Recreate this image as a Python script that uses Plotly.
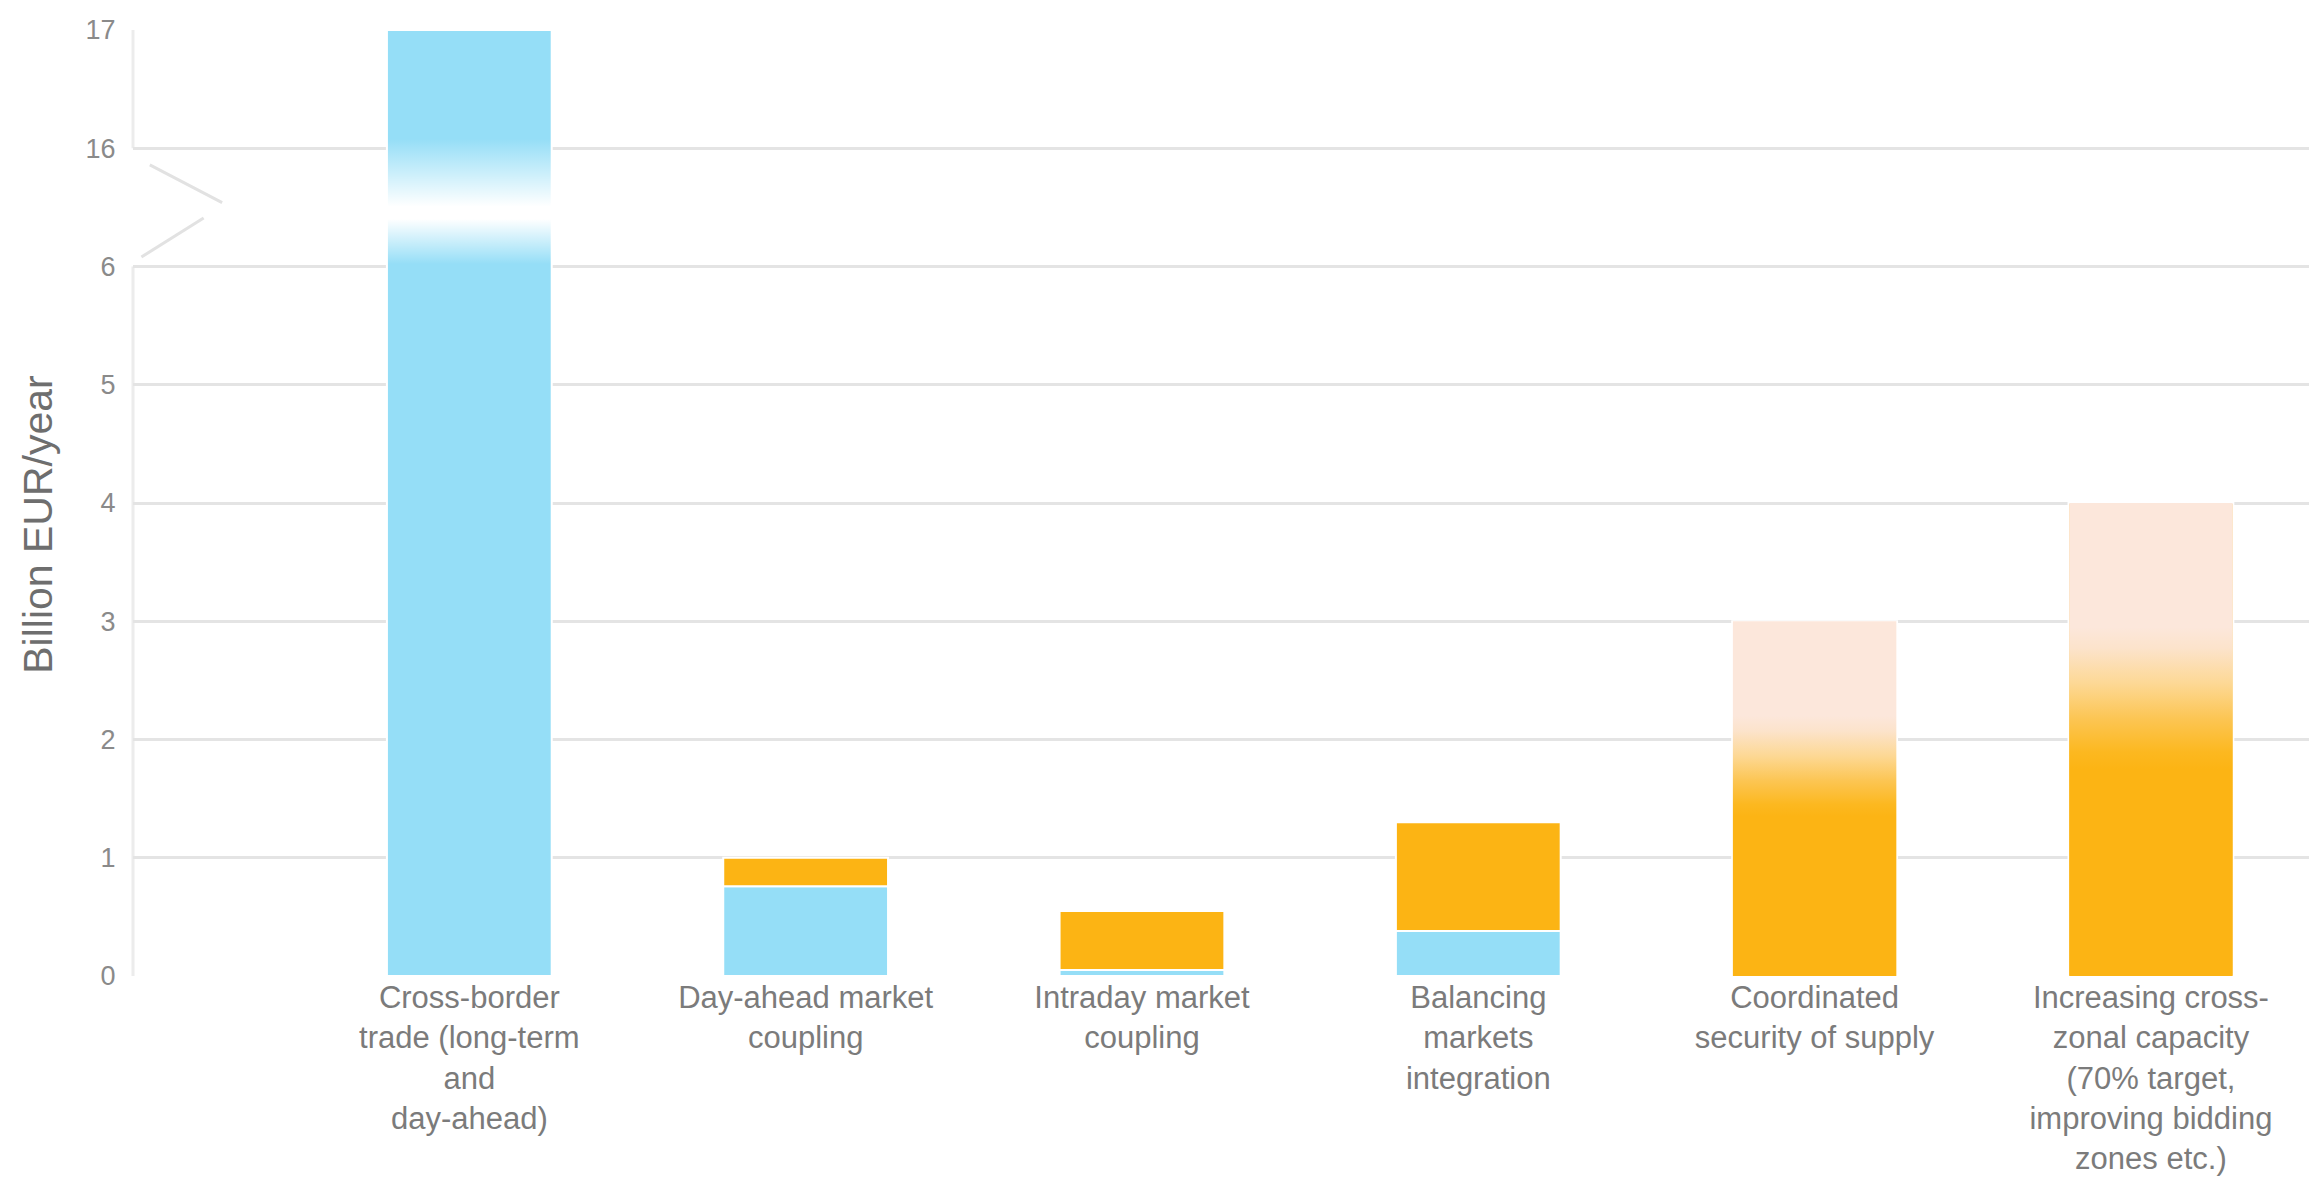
import plotly.graph_objects as go

# ---- data -------------------------------------------------------------
categories = [
    "Cross-border<br>trade (long-term<br>and<br>day-ahead)",
    "Day-ahead market<br>coupling",
    "Intraday market<br>coupling",
    "Balancing<br>markets<br>integration",
    "Coordinated<br>security of supply",
    "Increasing cross-<br>zonal capacity<br>(70% target,<br>improving bidding<br>zones etc.)",
]
blue_values = [17.0, 0.76, 0.05, 0.38, 0.0, 0.0]
orange_values = [0.0, 0.24, 0.50, 0.92, 3.0, 4.0]
# (value where the orange starts to fade, value where it is fully pale)
orange_fade = [None, None, None, None, (1.35, 2.2), (1.75, 2.95)]

y_tick_values = [0, 1, 2, 3, 4, 5, 6, 16, 17]
BREAK_LOW, BREAK_HIGH = 6, 16

# ---- style ------------------------------------------------------------
BLUE = "#95DEF7"
ORANGE = "#FCB414"
PALE = "#FCE7DB"
GRID = "#E4E4E4"
FONT = "Liberation Sans, Arial, sans-serif"
BAR_W = 0.49
FADE_SCALE = [
    [0.0, ORANGE], [0.12, "#FCB820"], [0.35, "#FCC552"],
    [0.6, "#FDD894"], [0.85, "#FCE3CB"], [1.0, PALE],
]


def axis_pos(v):
    """Position on the broken value axis: 16 sits one step above 6."""
    if v <= BREAK_LOW:
        return v
    return BREAK_LOW + 1 + (v - BREAK_HIGH)


xs = list(range(len(categories)))
blue_top = [axis_pos(b) for b in blue_values]
orange_top = [axis_pos(b + o) for b, o in zip(blue_values, orange_values)]

fig = go.Figure()

fig.add_trace(go.Bar(
    x=xs, y=blue_top, base=[0] * len(xs), width=BAR_W,
    marker=dict(color=BLUE, line=dict(color="white", width=2)),
    hoverinfo="skip", showlegend=False,
))
fig.add_trace(go.Bar(
    x=xs, y=[t - b for t, b in zip(orange_top, blue_top)], base=blue_top, width=BAR_W,
    marker=dict(color=ORANGE, line=dict(color="white", width=2)),
    hoverinfo="skip", showlegend=False,
))


def rect(x, lo, hi, inset=0.0):
    half = BAR_W / 2 - inset
    return ([x - half, x + half, x + half, x - half, x - half],
            [lo, lo, hi, hi, lo])


# faded upper part of the uncertain orange bars (drawn over the whole bar
# so the gradient blends in without a seam)
for x, fade, top, base in zip(xs, orange_fade, orange_top, blue_top):
    if fade is None:
        continue
    lo, hi = axis_pos(fade[0]), axis_pos(fade[1])
    px, py = rect(x, base, top, inset=0.002)
    fig.add_trace(go.Scatter(
        x=px, y=py, mode="lines", line=dict(width=0), fill="toself",
        fillgradient=dict(type="vertical", start=lo, stop=hi, colorscale=FADE_SCALE),
        hoverinfo="skip", showlegend=False,
    ))

# white break across the tall bar where the axis is interrupted
for x, top in zip(xs, blue_top):
    if top <= axis_pos(BREAK_HIGH):
        continue
    lo, hi = BREAK_LOW + 0.02, BREAK_LOW + 1.08
    px, py = rect(x, lo, hi)
    fig.add_trace(go.Scatter(
        x=px, y=py, mode="lines", line=dict(width=0), fill="toself",
        fillgradient=dict(type="vertical", start=lo, stop=hi,
                          colorscale=[[0, "rgba(255,255,255,0)"], [0.36, "rgba(255,255,255,1)"],
                                      [0.46, "rgba(255,255,255,1)"], [1, "rgba(255,255,255,0)"]]),
        hoverinfo="skip", showlegend=False,
    ))

# axis line (interrupted) and break marker
shapes = [
    dict(type="line", xref="paper", yref="y", x0=0, x1=0, y0=0, y1=BREAK_LOW,
         line=dict(color="#ECECEC", width=3), layer="below"),
    dict(type="line", xref="paper", yref="y", x0=0, x1=0, y0=BREAK_LOW + 1, y1=axis_pos(17),
         line=dict(color="#ECECEC", width=3), layer="below"),
    dict(type="path", xref="x", yref="y",
         path="M -0.95 6.86 L -0.735 6.54 M -0.79 6.41 L -0.975 6.08",
         line=dict(color="#E2E2E2", width=3)),
]

fig.update_layout(
    width=2318, height=1196,
    margin=dict(l=133, r=9, t=30, b=220, autoexpand=False),
    paper_bgcolor="white", plot_bgcolor="white",
    barmode="overlay",
    font=dict(family=FONT, color="#7B7B7B"),
    shapes=shapes,
    xaxis=dict(
        range=[-1.0, 5.47], tickvals=xs, ticktext=categories,
        showgrid=False, zeroline=False, showline=False, automargin=False,
        ticks="", ticklen=0,
        tickfont=dict(size=31, color="#7B7B7B", family=FONT),
    ),
    yaxis=dict(
        range=[0, 8], tickvals=[axis_pos(v) for v in y_tick_values],
        ticktext=[str(v) for v in y_tick_values],
        showgrid=True, gridcolor=GRID, gridwidth=3,
        zeroline=False, showline=False, automargin=False,
        ticks="outside", ticklen=11, tickcolor="rgba(0,0,0,0)",
        tickfont=dict(size=27, color="#8A8A8A", family=FONT),
    ),
    annotations=[dict(
        text="Billion EUR/year", xref="paper", yref="paper", x=0, y=0.477,
        xshift=-95, xanchor="center", yanchor="middle", textangle=-90,
        showarrow=False, font=dict(size=41, color="#6E6E6E", family=FONT),
    )],
)

fig.write_html("out.html")
